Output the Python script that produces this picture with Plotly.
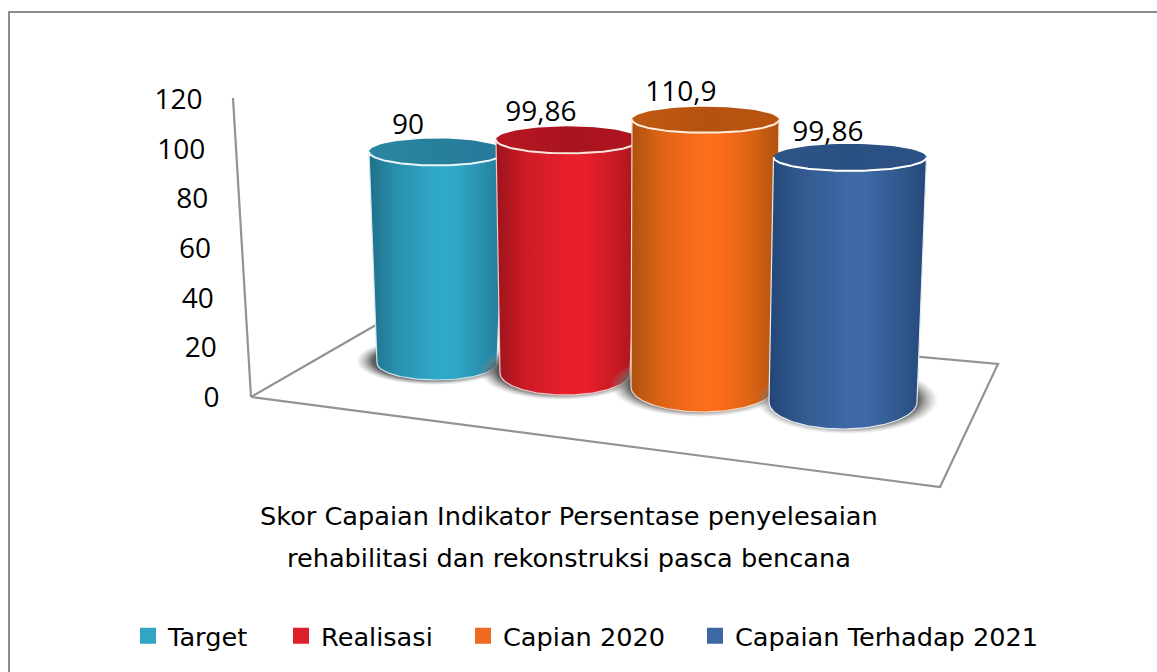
import numpy as np
import plotly.graph_objects as go

# ---------- data ----------
series_names = ["Target", "Realisasi", "Capian 2020", "Capaian Terhadap 2021"]
series_values = [90, 99.86, 110.9, 99.86]
value_labels = ["90", "99,86", "110,9", "99,86"]
tick_values = [0, 20, 40, 60, 80, 100, 120]
title_lines = ["Skor Capaian Indikator Persentase penyelesaian",
               "rehabilitasi dan rekonstruksi pasca bencana"]

# ---------- colours ----------
legend_colors = ["#31a6c4", "#dc1f2b", "#ee6a1e", "#3f67a3"]
top_stops = [
    ["#2a86a2", "#27809b", "#26789a"],
    ["#b81722", "#a81420", "#b01520"],
    ["#c05a12", "#b5520f", "#b8540f"],
    ["#2e5587", "#2b5083", "#2c5285"],
]
rim_colors = ["#cfe8f0", "#f0c8c8", "#f6d8c4", "#e6ecf5"]
cap_rim_colors = ["#e8f5f8", "#fbe6dc", "#fdeedd", "#ffffff"]
body_stops = [
    ["#1f6f88", "#2a8fae", "#30a9c9", "#30a9c9", "#2a90b0", "#237a96"],
    ["#9c141c", "#cc1b25", "#e8202c", "#e8202c", "#c91a24", "#a5141d"],
    ["#ab510f", "#dd6415", "#ff6e1a", "#fb6c18", "#d96214", "#ae5310"],
    ["#234677", "#32598f", "#3e69a6", "#3e69a6", "#32598f", "#244878"],
]

# ---------- projection of the 3-D scene on the page (pixels) ----------
W, H = 1157, 672
PX_PER_UNIT = 2.483
ZERO_PX = 400
def y_of(px):
    return (ZERO_PX - np.asarray(px, dtype=float)) / PX_PER_UNIT

base_px = [363, 373, 387, 402]
depth_scale = [2.345, 2.335, 2.41, 2.45]
base_cx = [437, 565, 703, 843]
base_rx = [60, 65, 72, 74]
base_ry = [17, 22, 25, 27]
top_cx = [437, 568, 705.5, 850]
top_rx = [68, 72, 73.5, 76.5]
top_ry = [13.5, 13.5, 13, 13.5]
label_dx = [-29, -27, -24.5, -22]
label_dy = [-25, -26, -26, -23]
shadow_dx = [-4, -4, -4, 4]
legend_swatch_px = [148, 301, 483, 715]

def arc(cx, cy, rx, ry, a0, a1, n=80):
    t = np.radians(np.linspace(a0, a1, n))
    return cx + rx * np.cos(t), cy + ry * np.sin(t)   # pixel-down convention

fig = go.Figure()

def add_poly(xs, ypx, **kw):
    fig.add_trace(go.Scatter(x=list(xs), y=list(y_of(ypx)), hoverinfo="skip",
                             showlegend=False, **kw))

# ---------- floor and wall ----------
wall = ([233, 251], [98, 397])
floor = ([251, 402, 998, 940, 251], [397, 310, 364, 487, 397])
for fx, fy in (wall, floor):
    add_poly(fx, fy, mode="lines", line=dict(color="#939393", width=2.2))

# ---------- value-axis labels ----------
fig.add_trace(go.Scatter(
    x=[219.5 - 17.0 * v / 120 for v in tick_values], y=tick_values, mode="text",
    text=[str(v) for v in tick_values], textposition="middle left",
    textfont=dict(family="Open Sans", size=28, color="#000000"),
    hoverinfo="skip", showlegend=False))

# ---------- cylinders ----------
for i, v in enumerate(series_values):
    top_px = base_px[i] - v * depth_scale[i]
    # shadow
    sx, sy = arc(base_cx[i] + shadow_dx[i], base_px[i] - 2,
                 base_rx[i] + 17, base_ry[i] + 7, 0, 360)
    add_poly(sx, sy, mode="lines", line=dict(width=0), fill="toself",
             fillgradient=dict(type="radial", colorscale=[
                 [0, "rgba(85,85,85,0.95)"], [0.78, "rgba(85,85,85,0.95)"],
                 [1, "rgba(150,150,150,0)"]]))
    # body
    lx, ly = arc(base_cx[i], base_px[i], base_rx[i], base_ry[i], 180, 0)
    ux, uy = arc(top_cx[i], top_px, top_rx[i], top_ry[i], 0, 180)
    pos = [0, 0.2, 0.5, 0.62, 0.82, 1]
    add_poly(np.r_[lx, ux, lx[0]], np.r_[ly, uy, ly[0]], mode="lines",
             line=dict(color=rim_colors[i], width=1.2), fill="toself",
             fillgradient=dict(type="horizontal",
                               colorscale=[[p, c] for p, c in zip(pos, body_stops[i])]))
    # data label (sits behind the cap, as in the picture)
    add_poly([top_cx[i] + label_dx[i]], [top_px + label_dy[i]], mode="text",
             text=[value_labels[i]], textposition="middle center",
             textfont=dict(family="Open Sans", size=28, color="#000000"))
    # cap
    cx_, cy_ = arc(top_cx[i], top_px, top_rx[i], top_ry[i], 0, 360)
    add_poly(cx_, cy_, mode="lines", line=dict(width=0), fill="toself",
             fillgradient=dict(type="horizontal",
                               colorscale=[[p, c] for p, c in zip([0, 0.5, 1], top_stops[i])]))
    # light front rim
    fx_, fy_ = arc(top_cx[i], top_px, top_rx[i], top_ry[i], 180, 0)
    add_poly(fx_, fy_, mode="lines", line=dict(color=cap_rim_colors[i], width=2))

# ---------- legend entries: one legend per series, so each sits where it should ----------
legend_layout = {}
for i, (name, col) in enumerate(zip(series_names, legend_colors)):
    key = "legend" if i == 0 else f"legend{i + 1}"
    fig.add_trace(go.Scatter(x=[None], y=[None], mode="markers", name=name, legend=key,
                             marker=dict(symbol="square", size=16, color=col)))
    legend_layout[key] = dict(
        x=(legend_swatch_px[i] - 20) / W, xanchor="left",
        y=float(1 - 636 / H), yanchor="middle",
        font=dict(family="DejaVu Sans", size=25.6, color="#000000"),
        bgcolor="rgba(0,0,0,0)", itemwidth=30)

annotations = [
    dict(x=569, y=float(y_of(py)), xref="x", yref="y", text=t, showarrow=False,
         font=dict(family="DejaVu Sans", size=25.6, color="#000000"))
    for t, py in zip(title_lines, [516, 558])
]

# chart frame: only the top and left edges fall inside the picture
fig.add_shape(type="rect", xref="x", yref="y", layer="below",
              x0=9, x1=W + 50, y0=float(y_of(12)), y1=float(y_of(H + 50)),
              line=dict(color="#8c8c8c", width=2), fillcolor="#ffffff")

fig.update_layout(
    width=W, height=H, margin=dict(l=0, r=0, t=0, b=0),
    paper_bgcolor="#ffffff", plot_bgcolor="#ffffff",
    xaxis=dict(range=[0, W], visible=False, fixedrange=True),
    yaxis=dict(range=[float(y_of(H)), float(y_of(0))], visible=False, fixedrange=True),
    annotations=annotations,
    **legend_layout,
)

fig.write_html("out.html", config=dict(displayModeBar=False),
               post_script="document.body.style.margin='0';document.body.style.overflow='hidden';")
